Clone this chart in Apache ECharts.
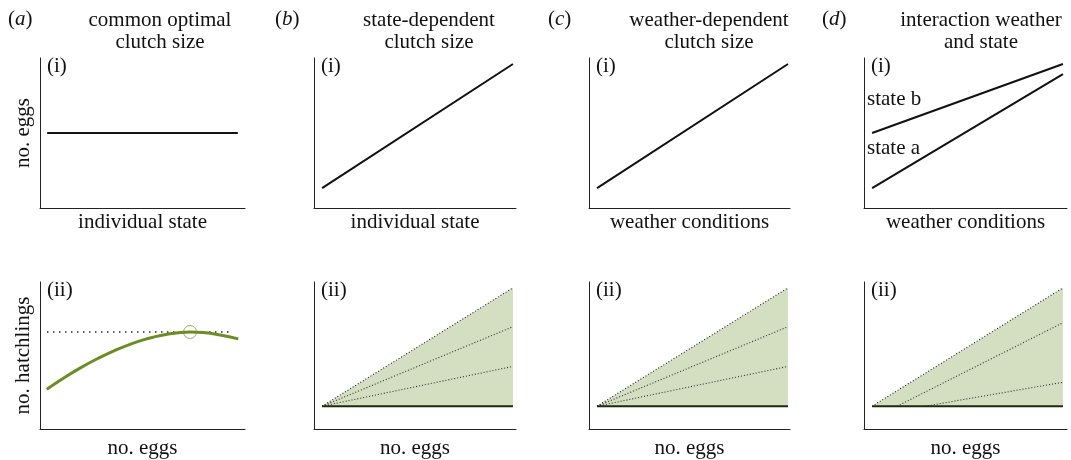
<!DOCTYPE html>
<html><head><meta charset="utf-8">
<script src="https://cdn.jsdelivr.net/npm/echarts@6/dist/echarts.min.js"></script>
<style>html,body{margin:0;padding:0;background:#fff}#c{width:1071px;height:460px}</style>
</head><body><div id="c"></div>
<script>
// ---------- data ----------
const panelLetters = ['a', 'b', 'c', 'd'];
const panelTitles = ['common optimal\nclutch size', 'state-dependent\nclutch size', 'weather-dependent\nclutch size', 'interaction weather\nand state'];
const topXNames = ['individual state', 'individual state', 'weather conditions', 'weather conditions'];
const bottomXName = 'no. eggs';
const topYName = 'no. eggs';
const bottomYName = 'no. hatchlings';
const rowTags = ['(i)', '(ii)'];
const interactionLabels = ['state b', 'state a'];

// row (i): no. eggs vs state / weather
const eggsCommon = [[3.5, 50], [96.5, 50]];
const eggsByState = [[4, 13.3], [98.5, 96]];
const eggsByWeather = [[4, 13.3], [99, 96]];
const eggsStateB = [[4, 50], [98, 96]];
const eggsStateA = [[4, 13.3], [98, 89.3]];

// row (ii): no. hatchlings vs no. eggs
const hatchCurve = [[3.3, 27.0], [11.4, 34.5], [19.5, 41.4], [27.7, 47.6], [35.8, 53.0], [43.9, 57.6], [52.0, 61.3], [60.1, 64.0], [68.3, 65.6], [73.2, 66.0], [79.7, 65.6], [87.8, 64.0], [96.7, 61.3]];
const hatchOptimum = [[73.2, 66]];
const hatchMaxLevel = [[3.4, 66], [93.5, 66]];

const baseB = [[4, 15.5], [98.5, 15.5]];
const upperB = [[4, 15.5], [98.5, 96]];
const midB = [[4, 15.5], [98.5, 69.6]];
const lowB = [[4, 15.5], [98.5, 42.6]];

const baseC = [[4, 15.5], [99, 15.5]];
const upperC = [[4, 15.5], [99, 96]];
const midC = [[4, 15.5], [99, 69.6]];
const lowC = [[4, 15.5], [99, 42.6]];

const baseD = [[4, 15.5], [98, 15.5]];
const upperD = [[4, 15.5], [98, 96]];
const midD = [[16.3, 15.5], [98, 72.3]];
const lowD = [[30, 15.5], [98, 31.8]];
const baselineLevel = 15.5;

// ---------- layout ----------
const FONT = 'Liberation Serif, Times New Roman, serif';
const FS = 21;
const TXT = '#111';
const gridLefts = [40, 314, 589, 864];
const gridWidths = [205, 202, 201, 203];
const rowTops = [58, 282];
const rowHeights = [150, 148];
const xNameGaps = [4, 9];
const headCenters = [160, 429, 709, 981];
const letterLefts = [8, 275, 548, 822];

const grids = [], xAxes = [], yAxes = [];
for (let r = 0; r < 2; r++) {
  for (let c = 0; c < 4; c++) {
    grids.push({ left: gridLefts[c], top: rowTops[r], width: gridWidths[c], height: rowHeights[r], containLabel: false });
    const idx = grids.length - 1;
    const axisLine = { show: true, onZero: false, lineStyle: { color: '#222', width: 1 } };
    xAxes.push({
      gridIndex: idx, type: 'value', min: 0, max: 100,
      axisLine, axisTick: { show: false }, axisLabel: { show: false }, splitLine: { show: false },
      name: r === 0 ? topXNames[c] : bottomXName, nameLocation: 'middle', nameGap: xNameGaps[r],
      nameTextStyle: { fontFamily: FONT, fontSize: FS, color: TXT, verticalAlign: 'top' }
    });
    yAxes.push({
      gridIndex: idx, type: 'value', min: 0, max: 100,
      axisLine, axisTick: { show: false }, axisLabel: { show: false }, splitLine: { show: false },
      name: c === 0 ? (r === 0 ? topYName : bottomYName) : '', nameLocation: 'middle', nameGap: 6,
      nameTextStyle: { fontFamily: FONT, fontSize: FS, color: TXT }
    });
  }
}

const solid = (idx, data, color, width) => ({
  type: 'line', xAxisIndex: idx, yAxisIndex: idx, data, symbol: 'none', silent: true,
  lineStyle: { color, width, type: 'solid' }
});
const dotted = (idx, data) => ({
  type: 'line', xAxisIndex: idx, yAxisIndex: idx, data, symbol: 'none', silent: true,
  lineStyle: { color: '#2a2a2a', width: 1.1, type: [1, 2] }
});
const filled = (idx, data) => ({
  type: 'line', xAxisIndex: idx, yAxisIndex: idx, data, symbol: 'none', silent: true,
  lineStyle: { color: '#1a1a1a', width: 1.1, type: [1, 2] },
  areaStyle: { color: '#d4dfc2', opacity: 1, origin: baselineLevel }
});

const series = [
  solid(0, eggsCommon, '#111', 2),
  solid(1, eggsByState, '#111', 2),
  solid(2, eggsByWeather, '#111', 2),
  solid(3, eggsStateB, '#111', 2),
  solid(3, eggsStateA, '#111', 2),
  // (a)(ii)
  { type: 'line', xAxisIndex: 4, yAxisIndex: 4, data: hatchMaxLevel, symbol: 'none', silent: true,
    lineStyle: { color: '#222', width: 1.5, type: [1.5, 4.5] } },
  { type: 'line', xAxisIndex: 4, yAxisIndex: 4, data: hatchCurve, symbol: 'none', smooth: 0.5, silent: true,
    lineStyle: { color: '#6b8e23', width: 3 } },
  { type: 'scatter', xAxisIndex: 4, yAxisIndex: 4, data: hatchOptimum, symbol: 'circle', symbolSize: 13, silent: true,
    itemStyle: { color: 'rgba(0,0,0,0)', borderColor: '#7c9d3c', borderWidth: 1 } },
  // (b)(ii)
  filled(5, upperB), dotted(5, midB), dotted(5, lowB), solid(5, baseB, '#1d2a0e', 2),
  // (c)(ii)
  filled(6, upperC), dotted(6, midC), dotted(6, lowC), solid(6, baseC, '#1d2a0e', 2),
  // (d)(ii)
  filled(7, upperD), dotted(7, midD), dotted(7, lowD), solid(7, baseD, '#1d2a0e', 2)
];

const graphics = [];
for (let c = 0; c < 4; c++) {
  graphics.push({ type: 'text', x: letterLefts[c], y: 9, silent: true,
    style: { text: '({it|' + panelLetters[c] + '})', font: FS + 'px ' + FONT, fill: TXT, textVerticalAlign: 'top',
      rich: { it: { fontStyle: 'italic', fontFamily: FONT, fontSize: FS, fill: TXT } } } });
  graphics.push({ type: 'text', x: headCenters[c], y: 9, silent: true,
    style: { text: panelTitles[c], font: FS + 'px ' + FONT, fill: TXT, textAlign: 'center', textVerticalAlign: 'top', lineHeight: 22 } });
  for (let r = 0; r < 2; r++) {
    graphics.push({ type: 'text', x: gridLefts[c] + 7, y: rowTops[r] - 2, silent: true,
      style: { text: rowTags[r], font: FS + 'px ' + FONT, fill: TXT, textVerticalAlign: 'top' } });
  }
}
graphics.push({ type: 'text', x: 867, y: 89, silent: true,
  style: { text: interactionLabels[0], font: FS + 'px ' + FONT, fill: TXT, textVerticalAlign: 'top' } });
graphics.push({ type: 'text', x: 867, y: 138, silent: true,
  style: { text: interactionLabels[1], font: FS + 'px ' + FONT, fill: TXT, textVerticalAlign: 'top' } });

const chart = echarts.init(document.getElementById('c'), null, { renderer: 'canvas' });
chart.setOption({
  backgroundColor: '#fff',
  animation: false,
  grid: grids, xAxis: xAxes, yAxis: yAxes, series, graphic: graphics
});
</script></body></html>
